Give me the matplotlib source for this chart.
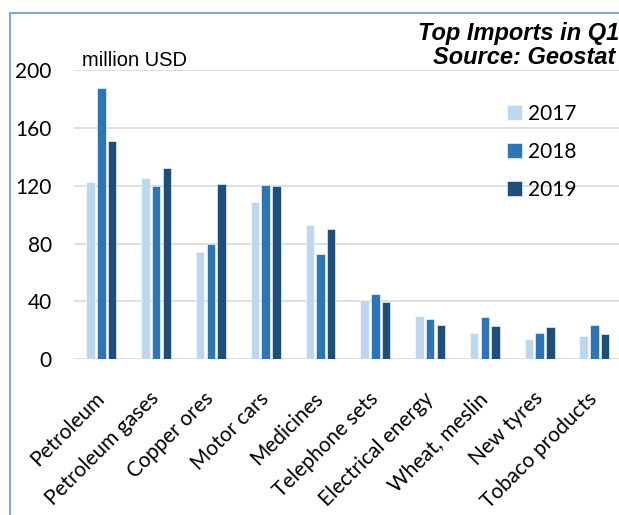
import numpy as np
import matplotlib.pyplot as plt
from matplotlib.patches import Rectangle

# data (million USD)
categories = ["Petroleum", "Petroleum gases", "Copper ores", "Motor cars", "Medicines",
              "Telephone sets", "Electrical energy", "Wheat, meslin", "New tyres", "Tobaco products"]
years = ["2017", "2018", "2019"]
v2017 = [122.5, 125, 74.5, 109, 93, 41, 30, 18, 14, 16]
v2018 = [187.5, 120, 80, 120.5, 73, 45, 28, 29, 18.5, 24]
v2019 = [151, 132, 121, 120, 90, 39.5, 23.5, 23, 22.5, 17.5]
colors = ["#BDD7EE", "#2E75B6", "#1F4E79"]

plt.rcParams["font.family"] = ["Liberation Sans", "DejaVu Sans"]
body_font = ["Lato", "DejaVu Sans"]

fig = plt.figure(figsize=(6.19, 5.15), dpi=100)
ax = fig.add_axes([0.1196, 0.3023, 0.8848, 0.5618])

x = np.arange(len(categories))
w = 0.155
step = 0.196
for i, (vals, yr) in enumerate(zip([v2017, v2018, v2019], years)):
    ax.bar(x + (i - 1) * step, vals, width=w, color=colors[i], label=yr,
           edgecolor="white", linewidth=0.4, zorder=3)

ax.set_xlim(-0.5, len(categories) - 0.5)
ax.set_ylim(0, 200)
ax.set_yticks(range(0, 201, 40))
ax.yaxis.grid(True, color="#D9D9D9", linewidth=1.2, zorder=0)
for s in ax.spines.values():
    s.set_visible(False)
ax.tick_params(axis="both", length=0)
ax.tick_params(axis="y", pad=16)
for t in ax.get_yticklabels():
    t.set_fontfamily(body_font)
    t.set_fontsize(15)
ax.set_xticks(x)
ax.set_xticklabels(categories, rotation=45, ha="right", va="center",
                   rotation_mode="anchor", fontsize=15, family=body_font)
ax.tick_params(axis="x", pad=26)

ax.legend(frameon=False, prop={"family": body_font, "size": 15}, loc="upper left",
          bbox_to_anchor=(507 / 619, 1 - 104 / 515), bbox_transform=fig.transFigure,
          handlelength=0.72, handleheight=0.72, handletextpad=0.3, labelspacing=0.86,
          borderaxespad=0, borderpad=0)

fig.text(82 / 619, 1 - 66.5 / 515, "million USD", fontsize=14.5, va="baseline")
fig.text(418 / 619, 1 - 40 / 515, "Top Imports in Q1", fontsize=17,
         fontweight="bold", style="italic", va="baseline")
fig.text(433 / 619, 1 - 64 / 515, "Source: Geostat", fontsize=17,
         fontweight="bold", style="italic", va="baseline")

# chart frame (cut off on the right and bottom)
fig.patches.append(Rectangle((10 / 619, -0.1), 1.2, 1 - 13 / 515 + 0.1,
                             transform=fig.transFigure, fill=False,
                             edgecolor="#7FA7D8", linewidth=1.5))

plt.savefig("out.png", dpi=100)
